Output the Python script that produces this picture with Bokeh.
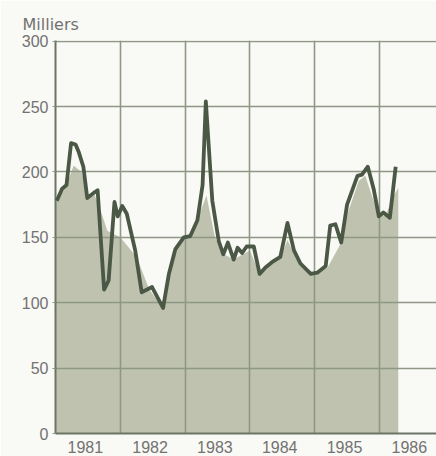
from bokeh.plotting import figure
from bokeh.models import FixedTicker, NumeralTickFormatter, Range1d, Title
from bokeh.embed import file_html
from bokeh.resources import INLINE

# Monthly-ish series (decimal year, thousands)
line_years = [1981.02, 1981.10, 1981.17, 1981.24, 1981.31, 1981.36, 1981.43, 1981.49,
              1981.59, 1981.65, 1981.75, 1981.82, 1981.91, 1981.96, 1982.03, 1982.10,
              1982.23, 1982.33, 1982.49, 1982.66, 1982.75, 1982.85, 1982.98, 1983.08,
              1983.19, 1983.27, 1983.32, 1983.42, 1983.52, 1983.59, 1983.66, 1983.75,
              1983.81, 1983.88, 1983.95, 1984.06, 1984.15, 1984.24, 1984.34, 1984.47,
              1984.58, 1984.68, 1984.78, 1984.94, 1985.04, 1985.17, 1985.24, 1985.32,
              1985.41, 1985.50, 1985.66, 1985.73, 1985.82, 1985.91, 1985.99, 1986.06,
              1986.16, 1986.25]
line_values = [178, 187, 190, 222, 221, 215, 204, 180,
               184, 186, 110, 117, 177, 166, 174, 168,
               140, 108, 112, 96, 122, 141, 150, 151,
               163, 190, 254, 178, 147, 137, 146, 133,
               142, 138, 143, 143, 122, 127, 131, 135,
               161, 140, 130, 122, 123, 128, 159, 160,
               146, 175, 197, 198, 204, 187, 166, 169,
               165, 204]

# Smoothed (shaded) series
area_years = [1981.00, 1981.10, 1981.17, 1981.28, 1981.40, 1981.50, 1981.60, 1981.70,
              1981.80, 1982.00, 1982.25, 1982.45, 1982.66, 1982.85, 1983.00, 1983.10,
              1983.20, 1983.33, 1983.46, 1983.60, 1983.75, 1984.00, 1984.15, 1984.35,
              1984.50, 1984.58, 1984.70, 1984.94, 1985.20, 1985.40, 1985.52, 1985.68,
              1985.78, 1985.99, 1986.10, 1986.20, 1986.29]
area_values = [178, 187, 190, 205, 200, 182, 183, 170,
               155, 150, 135, 110, 96, 141, 150, 151,
               165, 182, 150, 137, 133, 140, 122, 130,
               138, 148, 135, 122, 127, 145, 170, 193,
               197, 166, 167, 180, 188]

year_label_pos = [1981.46, 1982.46, 1983.46, 1984.46, 1985.46, 1986.46]
year_grid = [1982, 1983, 1984, 1985, 1986]
y_ticks = [0, 50, 100, 150, 200, 250, 300]

TEXT = "#727270"
GRID = "#8e9885"

p = figure(width=436, height=456, output_backend="svg", toolbar_location=None,
           x_range=Range1d(1981.0, 1986.88), y_range=Range1d(0, 300.5),
           min_border_left=55, min_border_right=0, min_border_top=40, min_border_bottom=23,
           background_fill_color="#f9f9f6", border_fill_color="#f9f9f6",
           outline_line_color=None)

p.add_layout(Title(text="Milliers", align="left", offset=-33, text_font="DejaVu Sans",
                   text_font_size="16px", text_color=TEXT, text_font_style="normal",
                   standoff=14), "above")

p.varea(x=area_years, y1=0, y2=area_values, fill_color="#bec2af", level="underlay")
p.line(x=line_years, y=line_values, line_color="#4b5845", line_width=3.8,
       line_join="round", level="annotation")

p.xaxis.ticker = FixedTicker(ticks=year_label_pos)
p.xaxis.formatter = NumeralTickFormatter(format="0")
p.xaxis.major_tick_out = 0
p.xaxis.major_tick_in = 0
p.xaxis.minor_tick_out = 0
p.xaxis.minor_tick_in = 0
p.xaxis.major_label_standoff = 7
p.xaxis.axis_line_color = "#6c7565"
p.xaxis.axis_line_width = 2

p.yaxis.ticker = FixedTicker(ticks=y_ticks)
p.yaxis.major_tick_out = 3
p.yaxis.major_tick_in = 0
p.yaxis.minor_tick_out = 0
p.yaxis.minor_tick_in = 0
p.yaxis.major_tick_line_color = GRID
p.yaxis.major_label_standoff = 4
p.yaxis.axis_line_color = "#6c7565"
p.yaxis.axis_line_width = 2

for ax in (p.xaxis, p.yaxis):
    ax.major_label_text_font = "Liberation Sans"
    ax.major_label_text_font_size = "16px"
    ax.major_label_text_color = TEXT

p.xgrid.ticker = FixedTicker(ticks=year_grid)
p.ygrid.ticker = FixedTicker(ticks=y_ticks)
for g in (p.xgrid, p.ygrid):
    g.grid_line_color = GRID
    g.grid_line_width = 1.6
    g.level = "glyph"

open("out.html", "w").write(file_html(p, INLINE))
